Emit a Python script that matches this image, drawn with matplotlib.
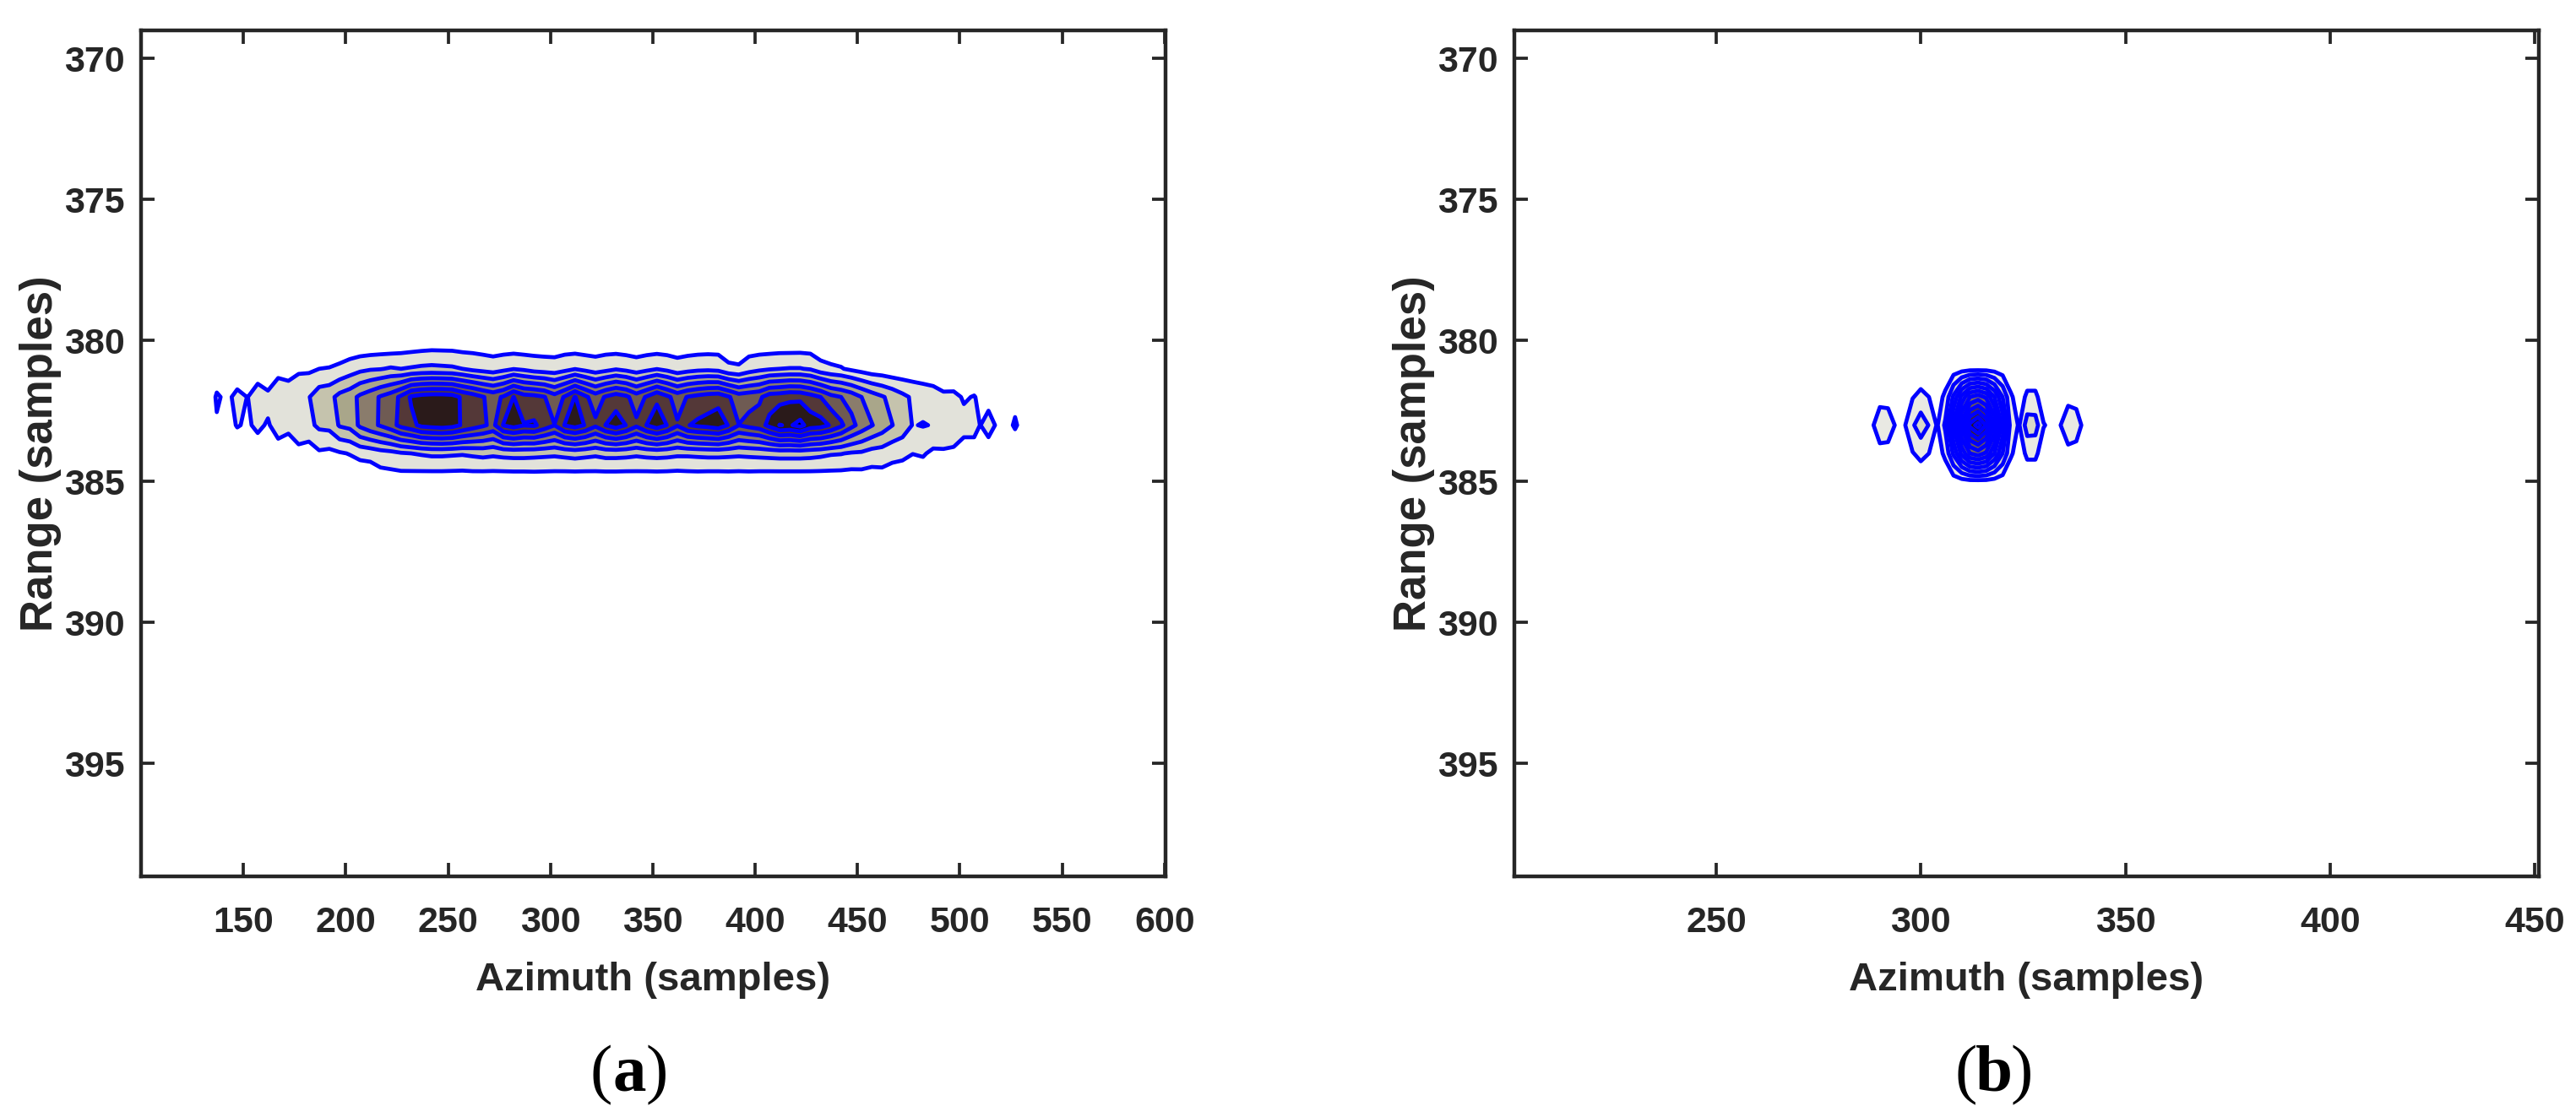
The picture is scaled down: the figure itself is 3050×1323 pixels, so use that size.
"""Contour maps of the focused target, panels (a) and (b)"""
import matplotlib
matplotlib.use('Agg')
import matplotlib.pyplot as plt
import numpy as np

# Panel (a): contour values, one list per range sample
az_a = [132, 137, 142, 147, 152, 157, 162, 167, 172, 177,
        182, 187, 192, 197, 202, 207, 212, 217, 222, 227,
        232, 237, 242, 247, 252, 257, 262, 267, 272, 277,
        282, 287, 292, 297, 302, 307, 312, 317, 322, 327,
        332, 337, 342, 347, 352, 357, 362, 367, 372, 377,
        382, 387, 392, 397, 402, 407, 412, 417, 422, 427,
        432, 437, 442, 447, 452, 457, 462, 467, 472, 477,
        482, 487, 492, 497, 502, 507, 510, 514, 518, 522,
        527, 532, 537]
a_380 = [0, 0, 0, 0, 0, 0, 0, 0, 0, 0,
         0, 0, .05, .15, .05, .05, .05, .1, .05, .2,
         .25, .3, .35, .35, .35, .3, .4, .4, .42, .3,
         .18, .2, .35, .4, .42, .35, .18, .25, .4, .35,
         .2, .25, .35, .25, .15, .25, .45, .35, .3, .3,
         .35, .3, .45, .35, .25, .2, .2, .18, .2, .22,
         .05, 0, .05, 0, 0, 0, 0, 0, 0, 0,
         0, 0, 0, 0, 0, 0, 0, 0, 0, 0,
         0, 0, 0]
a_381 = [0, .2, .15, .19, .2, .49, .15, .66, .44, .8,
         .83, 1.0, 1.05, 1.2, 1.5, 1.75, 1.9, 1.95, 2.1, 2.0,
         2.1, 2.2, 2.25, 2.2, 2.15, 2.0, 1.75, 1.6, 1.45, 1.7,
         1.95, 1.8, 1.55, 1.45, 1.4, 1.65, 1.95, 1.7, 1.45, 1.65,
         1.9, 1.7, 1.45, 1.7, 1.95, 1.7, 1.35, 1.55, 1.7, 1.75,
         1.65, 1.2, 1.1, 1.5, 1.75, 1.9, 2.0, 2.05, 2.05, 1.9,
         1.4, 1.2, 1.07, .81, .6, .4, .35, .24, .23, .28,
         .32, .37, .15, 0, .1, .1, .1, .1, .05, 0,
         0, 0, 0]
a_382 = [0, 1.15, .75, 1.3, .98, 1.45, 1.25, 1.7, 1.75, 1.9,
         1.95, 2.55, 2.7, 3.3, 3.6, 4.2, 4.6, 5.1, 5.5, 6.2,
         7.15, 7.4, 7.5, 7.5, 7.4, 6.85, 6.5, 6.05, 5.7, 6.1,
         7.02, 6.4, 6.3, 6.05, 5.4, 6.1, 7.05, 6.2, 5.5, 6.1,
         6.5, 6.2, 5.5, 6.1, 6.8, 6.2, 5.6, 6.05, 6.3, 6.5,
         6.6, 6.1, 5.5, 5.65, 5.8, 6.5, 6.6, 6.8, 6.75, 6.4,
         6.0, 5.3, 5.0, 4.6, 4.0, 3.5, 3.1, 2.7, 2.25, 1.85,
         1.6, 1.4, 1.2, 1.25, .9, 1.05, .8, .81, .7, .55,
         .75, .4, 0]
a_383 = [0, .87, .7, 1.05, .9, 1.15, .92, 1.35, 1.3, 1.55,
         1.75, 2.2, 2.3, 3.1, 3.3, 4.2, 4.7, 5.1, 5.6, 6.3,
         6.7, 7.25, 7.4, 7.5, 7.35, 6.9, 6.5, 6.15, 5.75, 7.05,
         7.4, 7.05, 7.15, 6.6, 6.02, 7.05, 7.4, 6.95, 6.2, 7.02,
         7.5, 6.98, 6.2, 7.02, 7.55, 6.98, 6.1, 6.95, 7.2, 7.35,
         7.6, 6.95, 6.02, 6.3, 6.55, 7.3, 8.03, 7.9, 8.3, 7.55,
         7.4, 6.9, 6.2, 5.3, 4.6, 4.05, 3.55, 3.02, 2.6, 1.95,
         2.05, 1.95, 1.75, 1.6, 1.3, 1.15, .99, 1.2, .95, .65,
         1.1, .6, 0]
a_384 = [0, .2, .2, .42, .4, .61, .3, .62, .3, .74,
         .46, .85, .75, .9, 1.05, 1.3, 1.4, 1.6, 1.7, 1.9,
         2.0, 2.1, 2.2, 2.2, 2.15, 2.1, 2.2, 2.3, 2.2, 2.3,
         2.35, 2.35, 2.3, 2.25, 2.2, 2.3, 2.4, 2.3, 2.2, 2.35,
         2.35, 2.3, 2.2, 2.3, 2.35, 2.3, 2.2, 2.2, 2.25, 2.3,
         2.3, 2.25, 2.2, 2.25, 2.3, 2.35, 2.4, 2.4, 2.4, 2.35,
         2.25, 2.1, 2.05, 1.9, 1.85, 1.6, 1.55, 1.3, 1.2, 1.02,
         1.1, .8, .86, .82, .6, .8, .6, .73, .5, .3,
         .4, .2, 0]
a_385 = [0, 0, 0, 0, 0, 0, 0, 0, 0, 0,
         0, 0, 0, 0, .1, .05, .05, .4, .45, .45,
         .4, .35, .3, .3, .3, .3, .3, .25, .28, .25,
         .25, .25, .3, .3, .3, .25, .22, .25, .3, .25,
         .25, .25, .3, .25, .25, .25, .25, .3, .3, .25,
         .25, .3, .3, .3, .25, .22, .2, .2, .2, .22,
         .25, .3, .3, .3, .35, .35, .45, .4, .4, .2,
         .3, .1, 0, 0, 0, 0, 0, 0, 0, 0,
         0, 0, 0]

# Panel (b)
az_b = [286, 288, 290, 292, 294, 296, 298, 300, 302, 304,
        306, 308, 310, 312, 314, 316, 318, 320, 322, 324,
        326, 328, 330, 332, 334, 336, 338, 340, 342]
b_381 = [0, .05, .1, .1, .05, .05, .2, .33, .2, .1,
         .2, .4, .55, .65, .65, .65, .55, .4, .2, .1,
         .3, .3, .1, .05, .05, .1, .1, .05, 0]
b_382 = [.1, .4, .72, .7, .4, .4, .95, 1.26, 1, .5,
         1.25, 3.2, 5.3, 7, 7.5, 6.8, 5, 3, 1.15, .5,
         1.2, 1.2, .5, .3, .4, .75, .7, .3, .1]
b_383 = [.3, .85, 1.5, 1.45, .9, .9, 1.85, 2.6, 1.95, .9,
         2.2, 5.2, 8.5, 11.3, 12.4, 10.9, 8, 4.7, 1.6, .9,
         2.5, 2.45, 1.05, .8, .95, 1.55, 1.4, .75, .2]
b_384 = b_382
b_385 = b_381

ranges_a = [380, 381, 382, 383, 384, 385]
ranges_b = [381, 382, 383, 384, 385]
yticks = [370, 375, 380, 385, 390, 395]
xticks_a = [150, 200, 250, 300, 350, 400, 450, 500, 550, 600]
xticks_b = [250, 300, 350, 400, 450]

colors_a = ['#E2E2DA', '#C5C3AD', '#A9A68A', '#8A7C6C', '#6F5B53', '#543838',
            '#2A1A1A', '#000000']
colors_b = ['#E9E9E3', '#D8D8C8', '#C5C3AD', '#B4B19A', '#A9A68A', '#8A7C6C',
            '#7A6A5E', '#6F5B53', '#543838', '#3E2828', '#2A1A1A', '#000000']

W, H = 3050, 1323
INK = '#262626'
plt.rcParams['font.family'] = ['Liberation Sans', 'DejaVu Sans']
plt.rcParams['font.weight'] = 'bold'

fig = plt.figure(figsize=(W / 100, H / 100), dpi=100)


def make_axes(left, right, top, bottom):
    return fig.add_axes([left / W, 1 - bottom / H, (right - left) / W, (bottom - top) / H])


def draw_panel(ax, az, ranges, rows, colors, xlim, xticks):
    z = np.array(rows)
    levels = list(range(1, len(colors) + 1))
    ax.contourf(az, ranges, z, levels=levels + [99], colors=colors)
    ax.contour(az, ranges, z, levels=levels, colors='#0000FF', linewidths=3.4,
               linestyles='solid')
    ax.set_xlim(xlim)
    ax.set_ylim(399, 369)
    ax.set_xticks(xticks)
    ax.set_yticks(yticks)
    ax.tick_params(direction='in', length=11.5, width=2.7, color=INK, labelcolor=INK,
                   top=True, right=True, labelsize=31)
    ax.tick_params(axis='x', pad=25)
    ax.tick_params(axis='y', pad=14)
    for s in ax.spines.values():
        s.set_linewidth(3.2)
        s.set_color(INK)
    ax.set_xlabel('Azimuth (samples)', fontsize=34, fontweight='bold', color=INK, labelpad=19)
    ax.set_ylabel('Range (samples)', fontsize=38, fontweight='bold', color=INK, labelpad=2)


ax1 = make_axes(167, 1380, 36, 1038)
draw_panel(ax1, az_a, ranges_a, [a_380, a_381, a_382, a_383, a_384, a_385], colors_a,
           (100, 600.5), xticks_a)

ax2 = make_axes(1793, 3006, 36, 1038)
draw_panel(ax2, az_b, ranges_b, [b_381, b_382, b_383, b_384, b_385], colors_b,
           (200.7, 451), xticks_b)

# Panel letters, serif with a bold letter between plain brackets
for cx, letter in [(745, 'a'), (2361, 'b')]:
    for dx, s, w in [(-33, '(', 'normal'), (0, letter, 'bold'), (33, ')', 'normal')]:
        fig.text((cx + dx) / W, 1 - 1292 / H, s, family='Liberation Serif', fontsize=57,
                 fontweight=w, color='black', ha='center', va='baseline')

fig.savefig('out.png', dpi=100)
